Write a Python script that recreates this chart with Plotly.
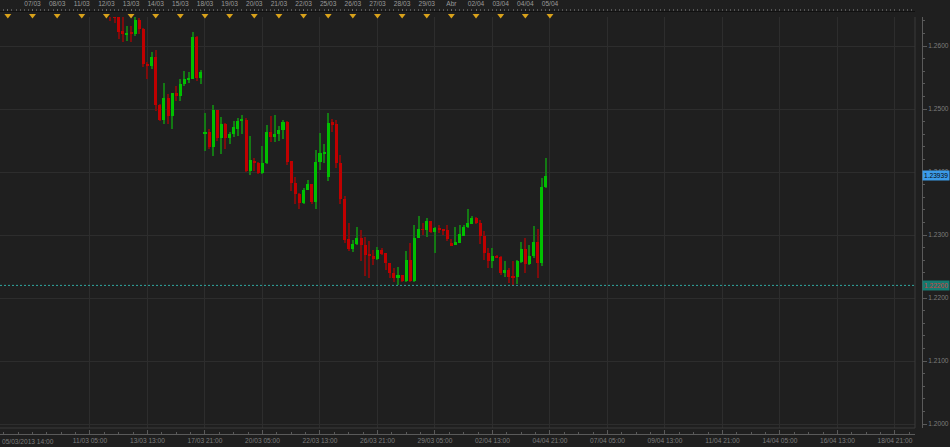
import plotly.graph_objects as go

# ---------------- data (4-hour candles, x = candle slot index) ----------------
first_slot = 5
opens = [1.2660, 1.2650, 1.2647, 1.2624, 1.2618, 1.2621, 1.2619, 1.2642, 1.2627, 1.2572,
         1.2569, 1.2582, 1.2507, 1.2483, 1.2518, 1.2489, 1.2525, 1.2520, 1.2539, 1.2547,
         1.2548, 1.2615, 1.2550, 1.2460, 1.2464, 1.2440, 1.2499, 1.2454, 1.2476, 1.2454,
         1.2460, 1.2469, 1.2481, 1.2483, 1.2401, 1.2418, 1.2414, 1.2398, 1.2414, 1.2463,
         1.2456, 1.2461, 1.2466, 1.2480, 1.2417, 1.2383, 1.2365, 1.2351, 1.2372, 1.2381,
         1.2353, 1.2416, 1.2430, 1.2392, 1.2479, 1.2476, 1.2415, 1.2357, 1.2293, 1.2277,
         1.2286, 1.2295, 1.2284, 1.2269, 1.2267, 1.2262, 1.2276, 1.2271, 1.2255, 1.2239,
         1.2231, 1.2236, 1.2227, 1.2260, 1.2227, 1.2296, 1.2309, 1.2308, 1.2323, 1.2305,
         1.2311, 1.2308, 1.2308, 1.2287, 1.2284, 1.2288, 1.2299, 1.2312, 1.2318, 1.2327,
         1.2319, 1.2298, 1.2271, 1.2258, 1.2267, 1.2265, 1.2239, 1.2244, 1.2235, 1.2233,
         1.2257, 1.2278, 1.2254, 1.2266, 1.2289, 1.2255, 1.2376]
highs = [1.2668, 1.2655, 1.2650, 1.2647, 1.2631, 1.2632, 1.2647, 1.2645, 1.2629, 1.2574,
         1.2590, 1.2593, 1.2508, 1.2542, 1.2524, 1.2525, 1.2537, 1.2548, 1.2561, 1.2558,
         1.2622, 1.2616, 1.2562, 1.2493, 1.2468, 1.2506, 1.2499, 1.2488, 1.2477, 1.2464,
         1.2481, 1.2485, 1.2491, 1.2485, 1.2457, 1.2422, 1.2416, 1.2441, 1.2475, 1.2489,
         1.2491, 1.2473, 1.2483, 1.2481, 1.2418, 1.2392, 1.2366, 1.2374, 1.2388, 1.2381,
         1.2435, 1.2462, 1.2445, 1.2493, 1.2484, 1.2483, 1.2427, 1.2362, 1.2319, 1.2292,
         1.2313, 1.2308, 1.2297, 1.2290, 1.2276, 1.2281, 1.2279, 1.2272, 1.2256, 1.2247,
         1.2249, 1.2237, 1.2275, 1.2287, 1.2316, 1.2330, 1.2319, 1.2327, 1.2323, 1.2313,
         1.2316, 1.2310, 1.2316, 1.2294, 1.2313, 1.2316, 1.2316, 1.2342, 1.2330, 1.2328,
         1.2324, 1.2307, 1.2279, 1.2280, 1.2268, 1.2267, 1.2258, 1.2247, 1.2258, 1.2261,
         1.2289, 1.2295, 1.2284, 1.2314, 1.2309, 1.2390, 1.2422]
lows = [1.2639, 1.2636, 1.2611, 1.2606, 1.2608, 1.2607, 1.2616, 1.2619, 1.2566, 1.2548,
        1.2563, 1.2497, 1.2481, 1.2476, 1.2476, 1.2468, 1.2513, 1.2513, 1.2537, 1.2542,
        1.2547, 1.2545, 1.2539, 1.2434, 1.2437, 1.2426, 1.2450, 1.2429, 1.2436, 1.2444,
        1.2456, 1.2457, 1.2461, 1.2400, 1.2395, 1.2401, 1.2397, 1.2397, 1.2412, 1.2448,
        1.2447, 1.2450, 1.2452, 1.2411, 1.2370, 1.2350, 1.2342, 1.2349, 1.2371, 1.2350,
        1.2342, 1.2403, 1.2414, 1.2385, 1.2464, 1.2406, 1.2350, 1.2288, 1.2274, 1.2273,
        1.2284, 1.2259, 1.2235, 1.2231, 1.2252, 1.2260, 1.2268, 1.2244, 1.2232, 1.2226,
        1.2220, 1.2225, 1.2225, 1.2225, 1.2225, 1.2295, 1.2300, 1.2297, 1.2303, 1.2272,
        1.2303, 1.2300, 1.2290, 1.2284, 1.2284, 1.2287, 1.2298, 1.2311, 1.2317, 1.2317,
        1.2286, 1.2261, 1.2247, 1.2247, 1.2263, 1.2237, 1.2234, 1.2224, 1.2220, 1.2223,
        1.2255, 1.2240, 1.2252, 1.2264, 1.2231, 1.2251, 1.2374]
closes = [1.2648, 1.2645, 1.2623, 1.2619, 1.2621, 1.2620, 1.2642, 1.2627, 1.2572, 1.2569,
          1.2582, 1.2507, 1.2483, 1.2518, 1.2489, 1.2525, 1.2520, 1.2540, 1.2548, 1.2549,
          1.2615, 1.2550, 1.2558, 1.2464, 1.2440, 1.2499, 1.2454, 1.2476, 1.2454, 1.2461,
          1.2471, 1.2481, 1.2483, 1.2401, 1.2419, 1.2414, 1.2398, 1.2414, 1.2463, 1.2456,
          1.2461, 1.2467, 1.2480, 1.2416, 1.2383, 1.2365, 1.2351, 1.2372, 1.2381, 1.2353,
          1.2416, 1.2430, 1.2432, 1.2478, 1.2475, 1.2415, 1.2357, 1.2292, 1.2277, 1.2286,
          1.2295, 1.2284, 1.2269, 1.2267, 1.2262, 1.2276, 1.2270, 1.2255, 1.2239, 1.2231,
          1.2236, 1.2227, 1.2260, 1.2227, 1.2296, 1.2309, 1.2308, 1.2323, 1.2305, 1.2311,
          1.2308, 1.2307, 1.2293, 1.2284, 1.2289, 1.2302, 1.2313, 1.2319, 1.2327, 1.2319,
          1.2298, 1.2272, 1.2258, 1.2267, 1.2265, 1.2239, 1.2244, 1.2234, 1.2233, 1.2259,
          1.2278, 1.2254, 1.2267, 1.2289, 1.2255, 1.2376, 1.23939]
slots = list(range(first_slot, first_slot + len(opens)))

last_price = 1.23939
low_line = 1.22200

bottom_tick_slots = list(range(0, 197, 14))
bottom_tick_labels = ["11/03 05:00", "13/03 13:00", "17/03 21:00", "20/03 05:00", "22/03 13:00",
                      "26/03 21:00", "29/03 05:00", "02/04 13:00", "04/04 21:00", "07/04 05:00",
                      "09/04 13:00", "11/04 21:00", "14/04 05:00", "16/04 13:00", "18/04 21:00"]
first_label = "05/03/2013 14:00"

day_slots = list(range(-20, 113, 6))
day_labels = ["", "07/03", "08/03", "11/03", "12/03", "13/03", "14/03", "15/03", "18/03",
              "19/03", "20/03", "21/03", "22/03", "25/03", "26/03", "27/03", "28/03", "29/03",
              "Abr", "02/04", "03/04", "04/04", "05/04"]

price_ticks = [1.2000, 1.2100, 1.2200, 1.2300, 1.2400, 1.2500, 1.2600]

# ---------------- geometry / style ----------------
W, H = 950, 447
PX_LEFT, PX_RIGHT = 0, 915
PX_TOP, PX_BOTTOM = 17, 428
BG = "#1f1f1f"
GRID = "#2d2d2d"
AXIS = "#5a5a5a"
TXT = "#8a8a8a"
FONT = "Liberation Sans"
UP_BODY, UP_WICK = "#00c000", "#147a14"
DN_BODY, DN_WICK = "#c00000", "#7e0c0c"

x_range = [-21.91, 200.88]
y_range = [1.199365, 1.264603]

up = [c >= o for o, c in zip(opens, closes)]
body_base = [min(o, c) for o, c in zip(opens, closes)]
body_len = [max(abs(c - o), 0.00012) for o, c in zip(opens, closes)]
wick_len = [h - l for h, l in zip(highs, lows)]

fig = go.Figure()
fig.add_trace(go.Bar(x=slots, y=wick_len, base=lows, width=0.26,
                     marker=dict(color=[UP_WICK if u else DN_WICK for u in up], line_width=0),
                     hoverinfo="skip", showlegend=False))
fig.add_trace(go.Bar(x=slots, y=body_len, base=body_base, width=0.74,
                     marker=dict(color=[UP_BODY if u else DN_BODY for u in up], line_width=0),
                     customdata=list(zip(opens, highs, lows, closes)),
                     hovertemplate="O %{customdata[0]}<br>H %{customdata[1]}<br>L %{customdata[2]}<br>C %{customdata[3]}<extra></extra>",
                     showlegend=False))

# day markers (top strip) on the top time axis
fig.add_trace(go.Scatter(x=day_slots, y=[0.3] * len(day_slots), xaxis="x2", yaxis="y3",
                         mode="markers", cliponaxis=False, hoverinfo="skip", showlegend=False,
                         marker=dict(symbol="triangle-down", size=6, color="#d9a21b",
                                     line=dict(width=0))))

fig.update_layout(
    width=W, height=H, margin=dict(l=0, r=0, t=0, b=0),
    paper_bgcolor=BG, plot_bgcolor=BG, barmode="overlay", bargap=0,
    font=dict(family=FONT, size=7, color=TXT),
    xaxis=dict(domain=[PX_LEFT / W, PX_RIGHT / W], range=x_range, anchor="free",
               position=(H - 434) / H, showline=True, linecolor=AXIS, linewidth=1,
               tickmode="array", tickvals=bottom_tick_slots, ticktext=bottom_tick_labels,
               ticks="inside", ticklen=4, tickcolor=AXIS,
               minor=dict(dtick=3.5, tick0=0, ticks="inside", ticklen=2, tickcolor=AXIS, showgrid=False),
               showgrid=True, gridcolor=GRID, gridwidth=1, zeroline=False,
               tickfont=dict(size=6.6, color="#7c7c7c"), automargin=False, fixedrange=True),
    xaxis2=dict(side="top", anchor="y3",
                domain=[PX_LEFT / W, PX_RIGHT / W], range=x_range,
                tickmode="array", tickvals=day_slots, ticktext=day_labels,
                showline=True, linecolor="#111111", linewidth=1,
                ticks="outside", ticklen=2, tickcolor="#6a6a6a",
                minor=dict(dtick=1, tick0=0, ticks="outside", ticklen=2, tickcolor="#555555"),
                showgrid=False, zeroline=False, tickfont=dict(size=6.6, color="#9a9a9a"),
                automargin=False, fixedrange=True),
    yaxis=dict(domain=[(H - PX_BOTTOM) / H, (H - PX_TOP) / H], range=y_range,
               side="right", anchor="free", position=922 / W,
               showline=True, linecolor=AXIS, linewidth=1,
               tickmode="array", tickvals=price_ticks, tickformat=".4f",
               ticks="outside", ticklen=4, tickcolor=AXIS,
               minor=dict(dtick=0.002, tick0=1.2, ticks="outside", ticklen=2, tickcolor=AXIS, showgrid=False),
               showgrid=True, gridcolor=GRID, gridwidth=1, zeroline=False,
               tickfont=dict(size=6.6, color="#7c7c7c"), automargin=False, fixedrange=True),
    yaxis3=dict(domain=[(H - 17) / H, (H - 12) / H], range=[0, 1], visible=False, fixedrange=True),
    hovermode="closest",
)

# inner frame (right and bottom border of the plotting area)
fig.add_shape(type="line", xref="paper", yref="paper", x0=PX_RIGHT / W, x1=PX_RIGHT / W,
              y0=(H - PX_BOTTOM) / H, y1=(H - PX_TOP) / H, line=dict(color="#3a3a3a", width=1))
fig.add_shape(type="line", xref="paper", yref="paper", x0=0, x1=PX_RIGHT / W,
              y0=(H - PX_BOTTOM) / H, y1=(H - PX_BOTTOM) / H, line=dict(color="#3a3a3a", width=1))

# low level dashed line
fig.add_shape(type="line", xref="paper", yref="y", x0=0, x1=PX_RIGHT / W, y0=low_line, y1=low_line,
              line=dict(color="#2fa8a0", width=1, dash="2px,2px"))

# price tags on the right axis
fig.add_annotation(xref="paper", yref="y", x=922 / W, y=last_price, xanchor="left", yanchor="middle",
                   text=f"{last_price:.5f}", showarrow=False, bgcolor="#3b9be8", borderpad=1,
                   font=dict(size=6.6, color="#0a0a0a", family=FONT))
fig.add_annotation(xref="paper", yref="y", x=922 / W, y=low_line, xanchor="left", yanchor="middle",
                   text=f"{low_line:.5f}", showarrow=False, bgcolor="#157a70", borderpad=1,
                   font=dict(size=6.6, color="#d04040", family=FONT))

# first (left-edge) time label
fig.add_annotation(xref="paper", yref="paper", x=0, y=(H - 441) / H, xanchor="left", yanchor="middle",
                   text=first_label, showarrow=False, font=dict(size=6.6, color="#7c7c7c"))

fig.write_html("out.html", config={"displayModeBar": False},
               post_script="document.body.style.margin='0';document.body.style.padding='0';"
                           "document.body.style.background='" + BG + "';")
